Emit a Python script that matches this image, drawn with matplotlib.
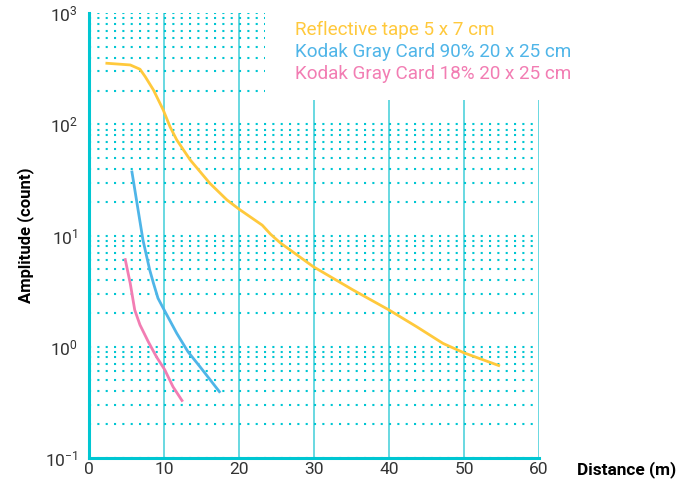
import matplotlib
matplotlib.use("Agg")
import matplotlib.pyplot as plt
from matplotlib.patches import Rectangle
from matplotlib.ticker import LogLocator

plt.rcParams['font.family'] = ['Roboto', 'DejaVu Sans']
plt.rcParams['mathtext.fontset'] = 'custom'
plt.rcParams['mathtext.rm'] = 'Roboto'
plt.rcParams['mathtext.it'] = 'Roboto'
plt.rcParams['mathtext.default'] = 'regular'
plt.rcParams['axes.unicode_minus'] = False

# ---- data ----
tape_x = [2.2, 5.5, 6.8, 7.5, 8.6, 9.9, 10.8, 11.7, 13.5, 16.1, 18.4, 20.0, 23.1, 24.2, 25.5, 29.9, 35.2, 40.0, 43.7, 47.2, 50.0, 54.8]
tape_y = [356, 343, 314, 269, 204, 135, 95.5, 72.6, 47.9, 29.6, 20.9, 17.3, 12.4, 10.3, 8.6, 5.25, 3.24, 2.14, 1.51, 1.07, 0.88, 0.67]

gray90_x = [5.7, 6.4, 7.2, 8.1, 8.6, 9.2, 9.9, 11.7, 13.2, 14.8, 17.5]
gray90_y = [38.4, 19.6, 9.1, 4.9, 3.72, 2.73, 2.22, 1.32, 0.90, 0.66, 0.385]

gray18_x = [4.8, 5.5, 6.1, 6.8, 7.9, 9.0, 10.1, 11.2, 12.5]
gray18_y = [6.25, 3.72, 2.14, 1.57, 1.11, 0.81, 0.62, 0.436, 0.32]

labels = ["Reflective tape 5 x 7 cm", "Kodak Gray Card 90% 20 x 25 cm", "Kodak Gray Card 18% 20 x 25 cm"]
colors = ["#FFC93C", "#4FB5E8", "#F27DB3"]
x_ticks = [0, 10, 20, 30, 40, 50, 60]

cyan = "#00C6D2"
cyan_light = "#5DD6DE"

fig = plt.figure(figsize=(6.86, 4.79), dpi=100)
ax = fig.add_axes([0.1297, 0.0443, 0.656, 0.9279])

ax.set_yscale('log')
ax.set_xlim(0, 60)
ax.set_ylim(0.1, 1000)
ax.set_xticks(x_ticks)
ax.yaxis.set_major_locator(LogLocator(base=10, numticks=10))
ax.yaxis.set_minor_locator(LogLocator(base=10, subs=range(2, 10), numticks=20))

# grid
ax.set_axisbelow(True)
ax.grid(axis='x', which='major', color=cyan_light, linewidth=1.3, linestyle='-', zorder=0.5)
ax.grid(axis='y', which='both', color=cyan, linewidth=1.5, linestyle=(0, (1, 3)), zorder=0.5)

for s in ['top', 'right']:
    ax.spines[s].set_visible(False)
for s in ['left', 'bottom']:
    ax.spines[s].set_color(cyan)
    ax.spines[s].set_linewidth(2.2)

ax.tick_params(axis='both', which='both', length=0, labelsize=12.5, labelcolor='#333333')
ax.tick_params(axis='x', pad=3)
ax.tick_params(axis='y', pad=8)

handles = []
for xs, ys, c, lab in zip([tape_x, gray90_x, gray18_x], [tape_y, gray90_y, gray18_y], colors, labels):
    h, = ax.plot(xs, ys, color=c, linewidth=2, label=lab, zorder=3, solid_capstyle='butt')
    handles.append(h)

# white legend background covering the grid
bg = Rectangle((265 / 686, 1 - 100 / 479), 0.6, 0.3, transform=fig.transFigure,
               facecolor='white', edgecolor='none', zorder=2, clip_on=False)
ax.add_patch(bg)

leg = ax.legend(handles=handles, loc='upper left', bbox_to_anchor=(295 / 686, 1 - 21 / 479),
                bbox_transform=fig.transFigure, frameon=False, handlelength=0, handletextpad=0,
                borderpad=0, borderaxespad=0, labelspacing=0.2, fontsize=13.6,
                labelcolor=colors)
for lh in leg.legend_handles:
    lh.set_visible(False)

ax.set_ylabel("Amplitude (count)", fontsize=12, fontweight='bold', labelpad=8)
fig.text(627 / 686, 1 - 470 / 479, "Distance (m)", fontsize=12.4, fontweight='bold',
         ha='center', va='center')

fig.savefig("out.png", dpi=100)
